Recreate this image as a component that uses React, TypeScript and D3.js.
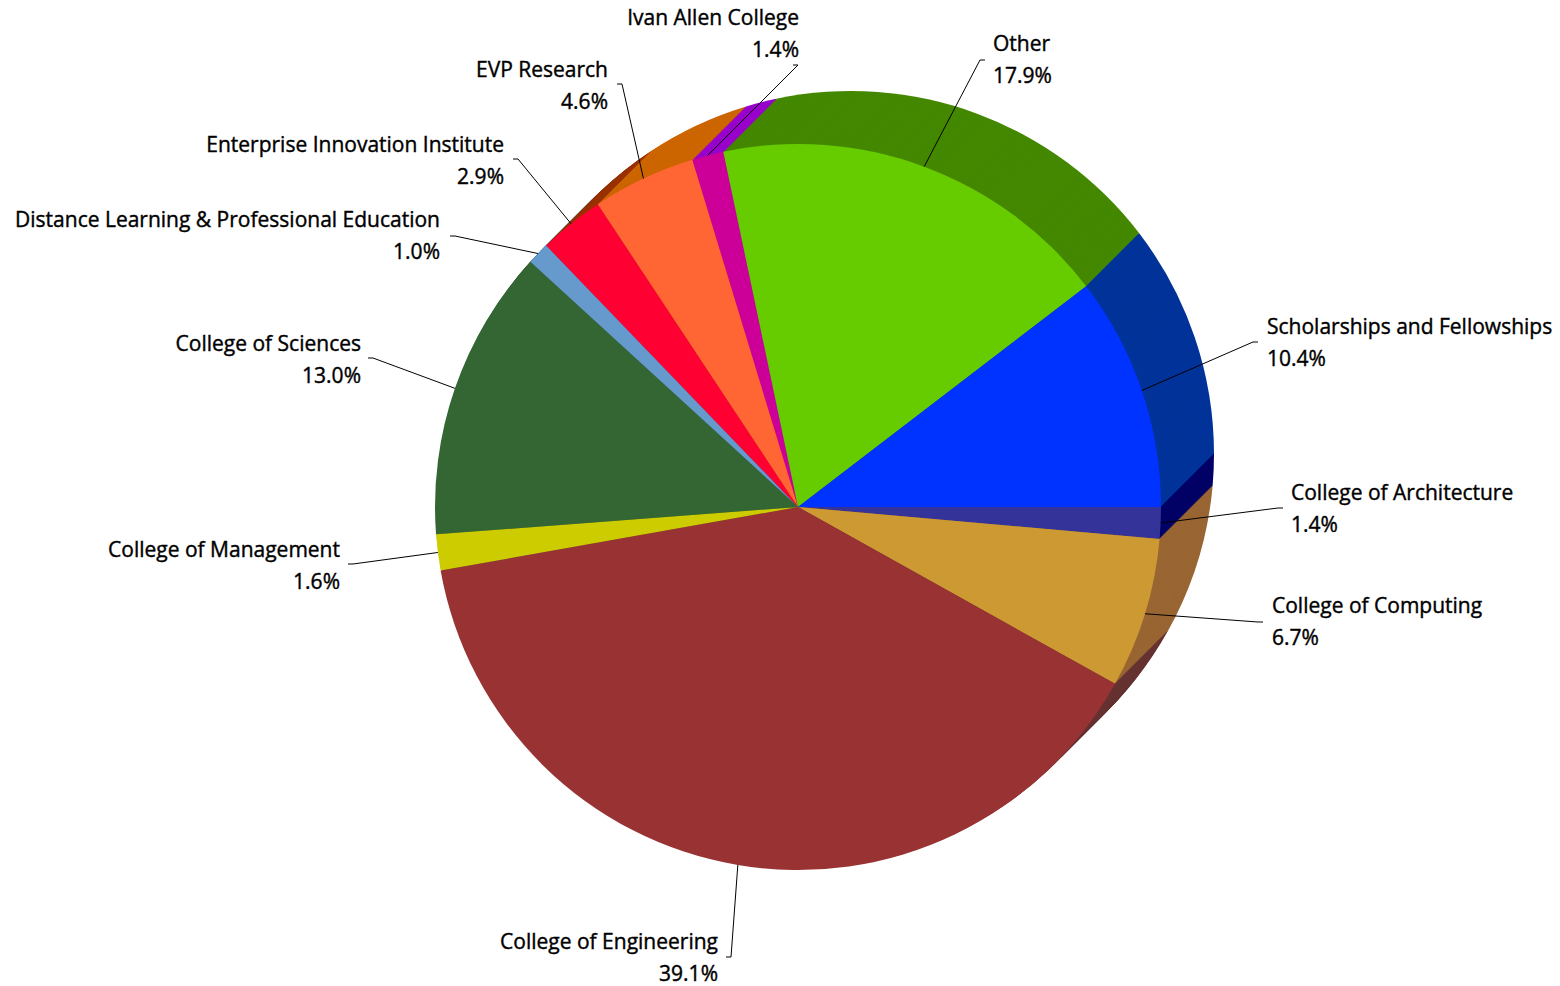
import * as d3 from "d3";

// Georgia Tech funding breakdown, clockwise from 3 o'clock
const categories = [
  "College of Architecture",
  "College of Computing",
  "College of Engineering",
  "College of Management",
  "College of Sciences",
  "Distance Learning & Professional Education",
  "Enterprise Innovation Institute",
  "EVP Research",
  "Ivan Allen College",
  "Other",
  "Scholarships and Fellowships",
];
const shares = [1.4, 6.7, 39.1, 1.6, 13.0, 1.0, 2.9, 4.6, 1.4, 17.9, 10.4];

const topColors = [
  "#333399", "#CC9933", "#993333", "#CCCC00", "#336633", "#6699CC",
  "#FF0033", "#FF6633", "#CC0099", "#66CC00", "#0033FF",
];
const sideColors = [
  "#000066", "#996633", "#663333", "#999900", "#224422", "#336699",
  "#993300", "#CC6600", "#9900CC", "#448800", "#003399",
];

// label placement (leader elbow, text anchor, alignment)
const labelElbows = [
  [1278, 508], [1258, 622], [731, 957], [353, 564], [373, 358], [455, 236],
  [518, 159], [622, 84], [798, 65], [980, 60], [1253, 342],
];
const labelAnchors = [
  [1291, 500], [1272, 613], [718, 949], [340, 557], [361, 351], [440, 227],
  [504, 152], [608, 77], [799, 25], [993, 51], [1267, 334],
];
const labelSides = [
  "start", "start", "end", "end", "end", "end",
  "end", "end", "end", "start", "start",
];

const W = 1560;
const H = 986;
const cx = 798;
const cy = 507;
const radius = 363;
const depth = 53;

export default function App() {
  const pie = d3
    .pie<number>()
    .sort(null)
    .value((d) => d)
    .startAngle(Math.PI / 2)
    .endAngle(Math.PI / 2 + 2 * Math.PI);
  const arcs = pie(shares);
  const arc = d3.arc<d3.PieArcDatum<number>>().innerRadius(0).outerRadius(radius);
  const fmt = d3.format(".1f");

  // extrusion layers, back to front
  const layers = d3.range(depth, 0, -1);

  return (
    <svg
      width={W}
      height={H}
      style={{ position: "absolute", left: 0, top: 0, background: "#fff" }}
      fontFamily="'Open Sans', sans-serif"
      fontSize={21}
    >
      {layers.map((t) => (
        <g key={t} transform={`translate(${cx + t},${cy - t})`}>
          {arcs.map((a, i) => (
            <path key={i} d={arc(a) ?? ""} fill={sideColors[i]} />
          ))}
        </g>
      ))}
      <g transform={`translate(${cx},${cy})`}>
        {arcs.map((a, i) => (
          <path key={i} d={arc(a) ?? ""} fill={topColors[i]} />
        ))}
      </g>
      {arcs.map((a, i) => {
        const mid = (a.startAngle + a.endAngle) / 2;
        const sx = cx + radius * Math.sin(mid);
        const sy = cy - radius * Math.cos(mid);
        const [ex, ey] = labelElbows[i];
        const dir = labelSides[i] === "start" ? 1 : -1;
        const [tx, ty] = labelAnchors[i];
        return (
          <g key={i}>
            <polyline
              points={`${sx},${sy} ${ex},${ey} ${ex + dir * 5},${ey}`}
              fill="none"
              stroke="#000"
              strokeWidth={1}
            />
            <text
              x={tx}
              y={ty}
              textAnchor={labelSides[i]}
              fill="#000"
              stroke="#000"
              strokeWidth={0.4}
            >
              <tspan x={tx}>{categories[i]}</tspan>
              <tspan x={tx} dy={31.5}>{fmt(shares[i])}%</tspan>
            </text>
          </g>
        );
      })}
    </svg>
  );
}
